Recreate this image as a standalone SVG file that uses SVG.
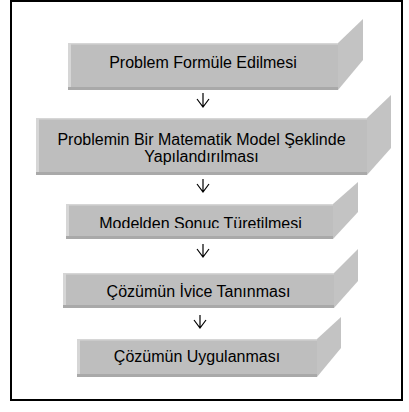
<svg xmlns="http://www.w3.org/2000/svg" width="409" height="412" viewBox="0 0 409 412">
<style>
.front{fill:#bebebe}
.side{fill:#c3c3c3}
.hl{fill:#d6d6d6}
.sh{fill:#a9a9a9}
.t{font-family:"Liberation Sans",Arial,sans-serif;font-size:16px;fill:#000;text-anchor:middle}
.arr{stroke:#000;stroke-width:1.2;fill:none}
</style>
<defs>
<clipPath id="c3"><rect x="0" y="0" width="409" height="228"/></clipPath>
<clipPath id="c5"><rect x="0" y="0" width="409" height="366"/></clipPath>
</defs>
<rect x="11" y="1" width="391" height="399" fill="#fff" stroke="#000" stroke-width="2"/>
<g id="n1">
<rect class="front" x="68" y="43" width="270" height="47"/>
<rect class="hl" x="68" y="43" width="270" height="1.5"/>
<rect class="hl" x="68" y="43" width="3" height="47"/>
<rect class="sh" x="68" y="87" width="270" height="3"/>
<polygon class="side" points="338,43 363,19 363,60 338,90"/>
<text class="t" x="203" y="67.5">Problem Formüle Edilmesi</text>
</g>
<g id="n2">
<rect class="front" x="36" y="118" width="331" height="57"/>
<rect class="hl" x="36" y="118" width="331" height="1.5"/>
<rect class="hl" x="36" y="118" width="3" height="57"/>
<rect class="sh" x="36" y="172" width="331" height="3"/>
<polygon class="side" points="367,118 391,95 391,148 367,175"/>
<text class="t" x="201.5" y="145">Problemin Bir Matematik Model Şeklinde</text>
<text class="t" x="201.5" y="162">Yapılandırılması</text>
</g>
<g id="n3">
<rect class="front" x="66" y="204" width="267" height="35"/>
<rect class="hl" x="66" y="204" width="267" height="1.5"/>
<rect class="hl" x="66" y="204" width="3" height="35"/>
<rect class="sh" x="66" y="236" width="267" height="3"/>
<polygon class="side" points="333,204 358,182 358,212 333,239"/>
<text class="t" x="200.5" y="229" clip-path="url(#c3)">Modelden Sonuç Türetilmesi</text>
</g>
<g id="n4">
<rect class="front" x="63" y="273" width="271" height="35"/>
<rect class="hl" x="63" y="273" width="271" height="1.5"/>
<rect class="hl" x="63" y="273" width="3" height="35"/>
<rect class="sh" x="63" y="305" width="271" height="3"/>
<polygon class="side" points="334,273 358,249 358,281 334,308"/>
<text class="t" x="198.5" y="297">Çözümün İvice Tanınması</text>
</g>
<g id="n5">
<rect class="front" x="77" y="339" width="240" height="38"/>
<rect class="hl" x="77" y="339" width="240" height="1.5"/>
<rect class="hl" x="77" y="339" width="3" height="38"/>
<rect class="sh" x="77" y="374" width="240" height="3"/>
<polygon class="side" points="317,339 341,317 341,348 317,377"/>
<text class="t" x="197" y="362" clip-path="url(#c5)">Çözümün Uygulanması</text>
</g>
<g id="connectors">
<path class="arr" d="M203,93 V107 M197,99 L203,107 L209,99"/>
<path class="arr" d="M203,179 V192 M197,184 L203,192 L209,184"/>
<path class="arr" d="M203,244 V257 M197,249 L203,257 L209,249"/>
<path class="arr" d="M200,315 V328 M194,320 L200,328 L206,320"/>
</g>
</svg>
